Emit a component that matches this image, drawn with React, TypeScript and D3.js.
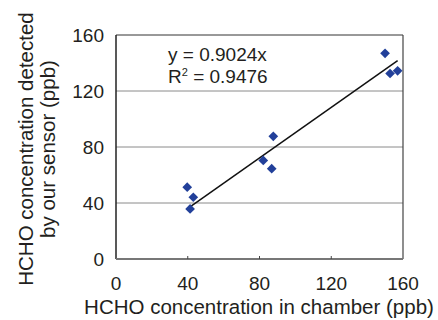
import { useEffect, useRef } from "react";
import * as d3 from "d3";

// chamber concentration (ppb) vs value detected by the sensor (ppb)
const chamberPpb = [39.7, 43.1, 41.3, 82.1, 86.8, 87.7, 150.0, 152.8, 157.0];
const sensorPpb = [51.3, 44.1, 35.8, 70.4, 64.5, 87.6, 146.9, 132.5, 134.4];
const slope = 0.9024;
const rSquared = "0.9476";
const xTicks = [0, 40, 80, 120, 160];
const yTicks = [0, 40, 80, 120, 160];
const gridTicks = [40, 80, 120];

export default function App() {
  const ref = useRef<SVGSVGElement>(null);

  useEffect(() => {
    const W = 438;
    const H = 320;
    const left = 116;
    const right = 403;
    const top = 35;
    const bottom = 259;
    const font = "'Liberation Sans', Arial, Helvetica, sans-serif";

    const svg = d3.select(ref.current);
    svg.selectAll("*").remove();
    svg.attr("width", W).attr("height", H).attr("viewBox", `0 0 ${W} ${H}`);
    svg.append("rect").attr("width", W).attr("height", H).attr("fill", "#fff");

    const x = d3.scaleLinear().domain([0, 160]).range([left, right]);
    const y = d3.scaleLinear().domain([0, 160]).range([bottom, top]);

    // grid lines
    svg.append("g")
      .selectAll("line")
      .data(gridTicks)
      .join("line")
      .attr("x1", left)
      .attr("x2", right)
      .attr("y1", d => y(d))
      .attr("y2", d => y(d))
      .attr("stroke", "#8a8a8a")
      .attr("stroke-width", 1);

    // plot frame
    svg.append("line").attr("x1", left).attr("x2", right).attr("y1", top).attr("y2", top)
      .attr("stroke", "#333").attr("stroke-width", 1);
    svg.append("line").attr("x1", right).attr("x2", right).attr("y1", top).attr("y2", bottom)
      .attr("stroke", "#444").attr("stroke-width", 1.2);
    svg.append("line").attr("x1", left).attr("x2", left).attr("y1", top).attr("y2", bottom)
      .attr("stroke", "#222").attr("stroke-width", 1.5);
    svg.append("line").attr("x1", left).attr("x2", right).attr("y1", bottom).attr("y2", bottom)
      .attr("stroke", "#777").attr("stroke-width", 2);

    // x tick marks (inside)
    svg.append("g")
      .selectAll("line")
      .data(xTicks.slice(1, -1))
      .join("line")
      .attr("x1", d => x(d))
      .attr("x2", d => x(d))
      .attr("y1", bottom)
      .attr("y2", bottom - 3)
      .attr("stroke", "#444");

    // tick labels
    svg.append("g")
      .selectAll("text")
      .data(xTicks)
      .join("text")
      .attr("x", d => x(d))
      .attr("y", 290)
      .attr("text-anchor", "middle")
      .attr("font-family", font)
      .attr("font-size", 19)
      .attr("fill", "#231f20")
      .text(d => d);

    svg.append("g")
      .selectAll("text")
      .data(yTicks)
      .join("text")
      .attr("x", 104)
      .attr("y", d => y(d) + 6.5)
      .attr("text-anchor", "end")
      .attr("font-family", font)
      .attr("font-size", 19)
      .attr("fill", "#231f20")
      .text(d => d);

    // axis titles
    svg.append("text")
      .attr("x", 259)
      .attr("y", 314)
      .attr("text-anchor", "middle")
      .attr("font-family", font)
      .attr("font-size", 20.5)
      .attr("fill", "#231f20")
      .text("HCHO concentration in chamber (ppb)");

    const yTitle = svg.append("text")
      .attr("transform", "translate(0,149) rotate(-90)")
      .attr("text-anchor", "middle")
      .attr("font-family", font)
      .attr("font-size", 20.5)
      .attr("fill", "#231f20");
    yTitle.append("tspan").attr("x", 0).attr("y", 33).text("HCHO concentration detected");
    yTitle.append("tspan").attr("x", 0).attr("y", 55).text("by our sensor (ppb)");

    // trend line over the data range
    const [xMin, xMax] = d3.extent(chamberPpb) as [number, number];
    svg.append("line")
      .attr("x1", x(xMin))
      .attr("y1", y(slope * xMin))
      .attr("x2", x(xMax))
      .attr("y2", y(slope * xMax))
      .attr("stroke", "#111")
      .attr("stroke-width", 1.5);

    // points
    const diamond = d3.symbol().type(d3.symbolDiamond2).size(60);
    svg.append("g")
      .selectAll("path")
      .data(chamberPpb.map((c, i) => ({ c, s: sensorPpb[i] })))
      .join("path")
      .attr("transform", d => `translate(${x(d.c)},${y(d.s)})`)
      .attr("d", diamond)
      .attr("fill", "#22409a");

    // equation
    svg.append("text")
      .attr("x", 168)
      .attr("y", 61)
      .attr("font-family", font)
      .attr("font-size", 19)
      .attr("fill", "#231f20")
      .text(`y = ${slope}x`);
    const r2 = svg.append("text")
      .attr("x", 168)
      .attr("y", 83)
      .attr("font-family", font)
      .attr("font-size", 19)
      .attr("fill", "#231f20");
    r2.append("tspan").text("R");
    r2.append("tspan").attr("dy", -7).attr("font-size", 11).text("2");
    r2.append("tspan").attr("dy", 7).text(` = ${rSquared}`);
  }, []);

  return (
    <svg
      ref={ref}
      style={{ position: "absolute", left: 0, top: 0, display: "block" }}
    />
  );
}
